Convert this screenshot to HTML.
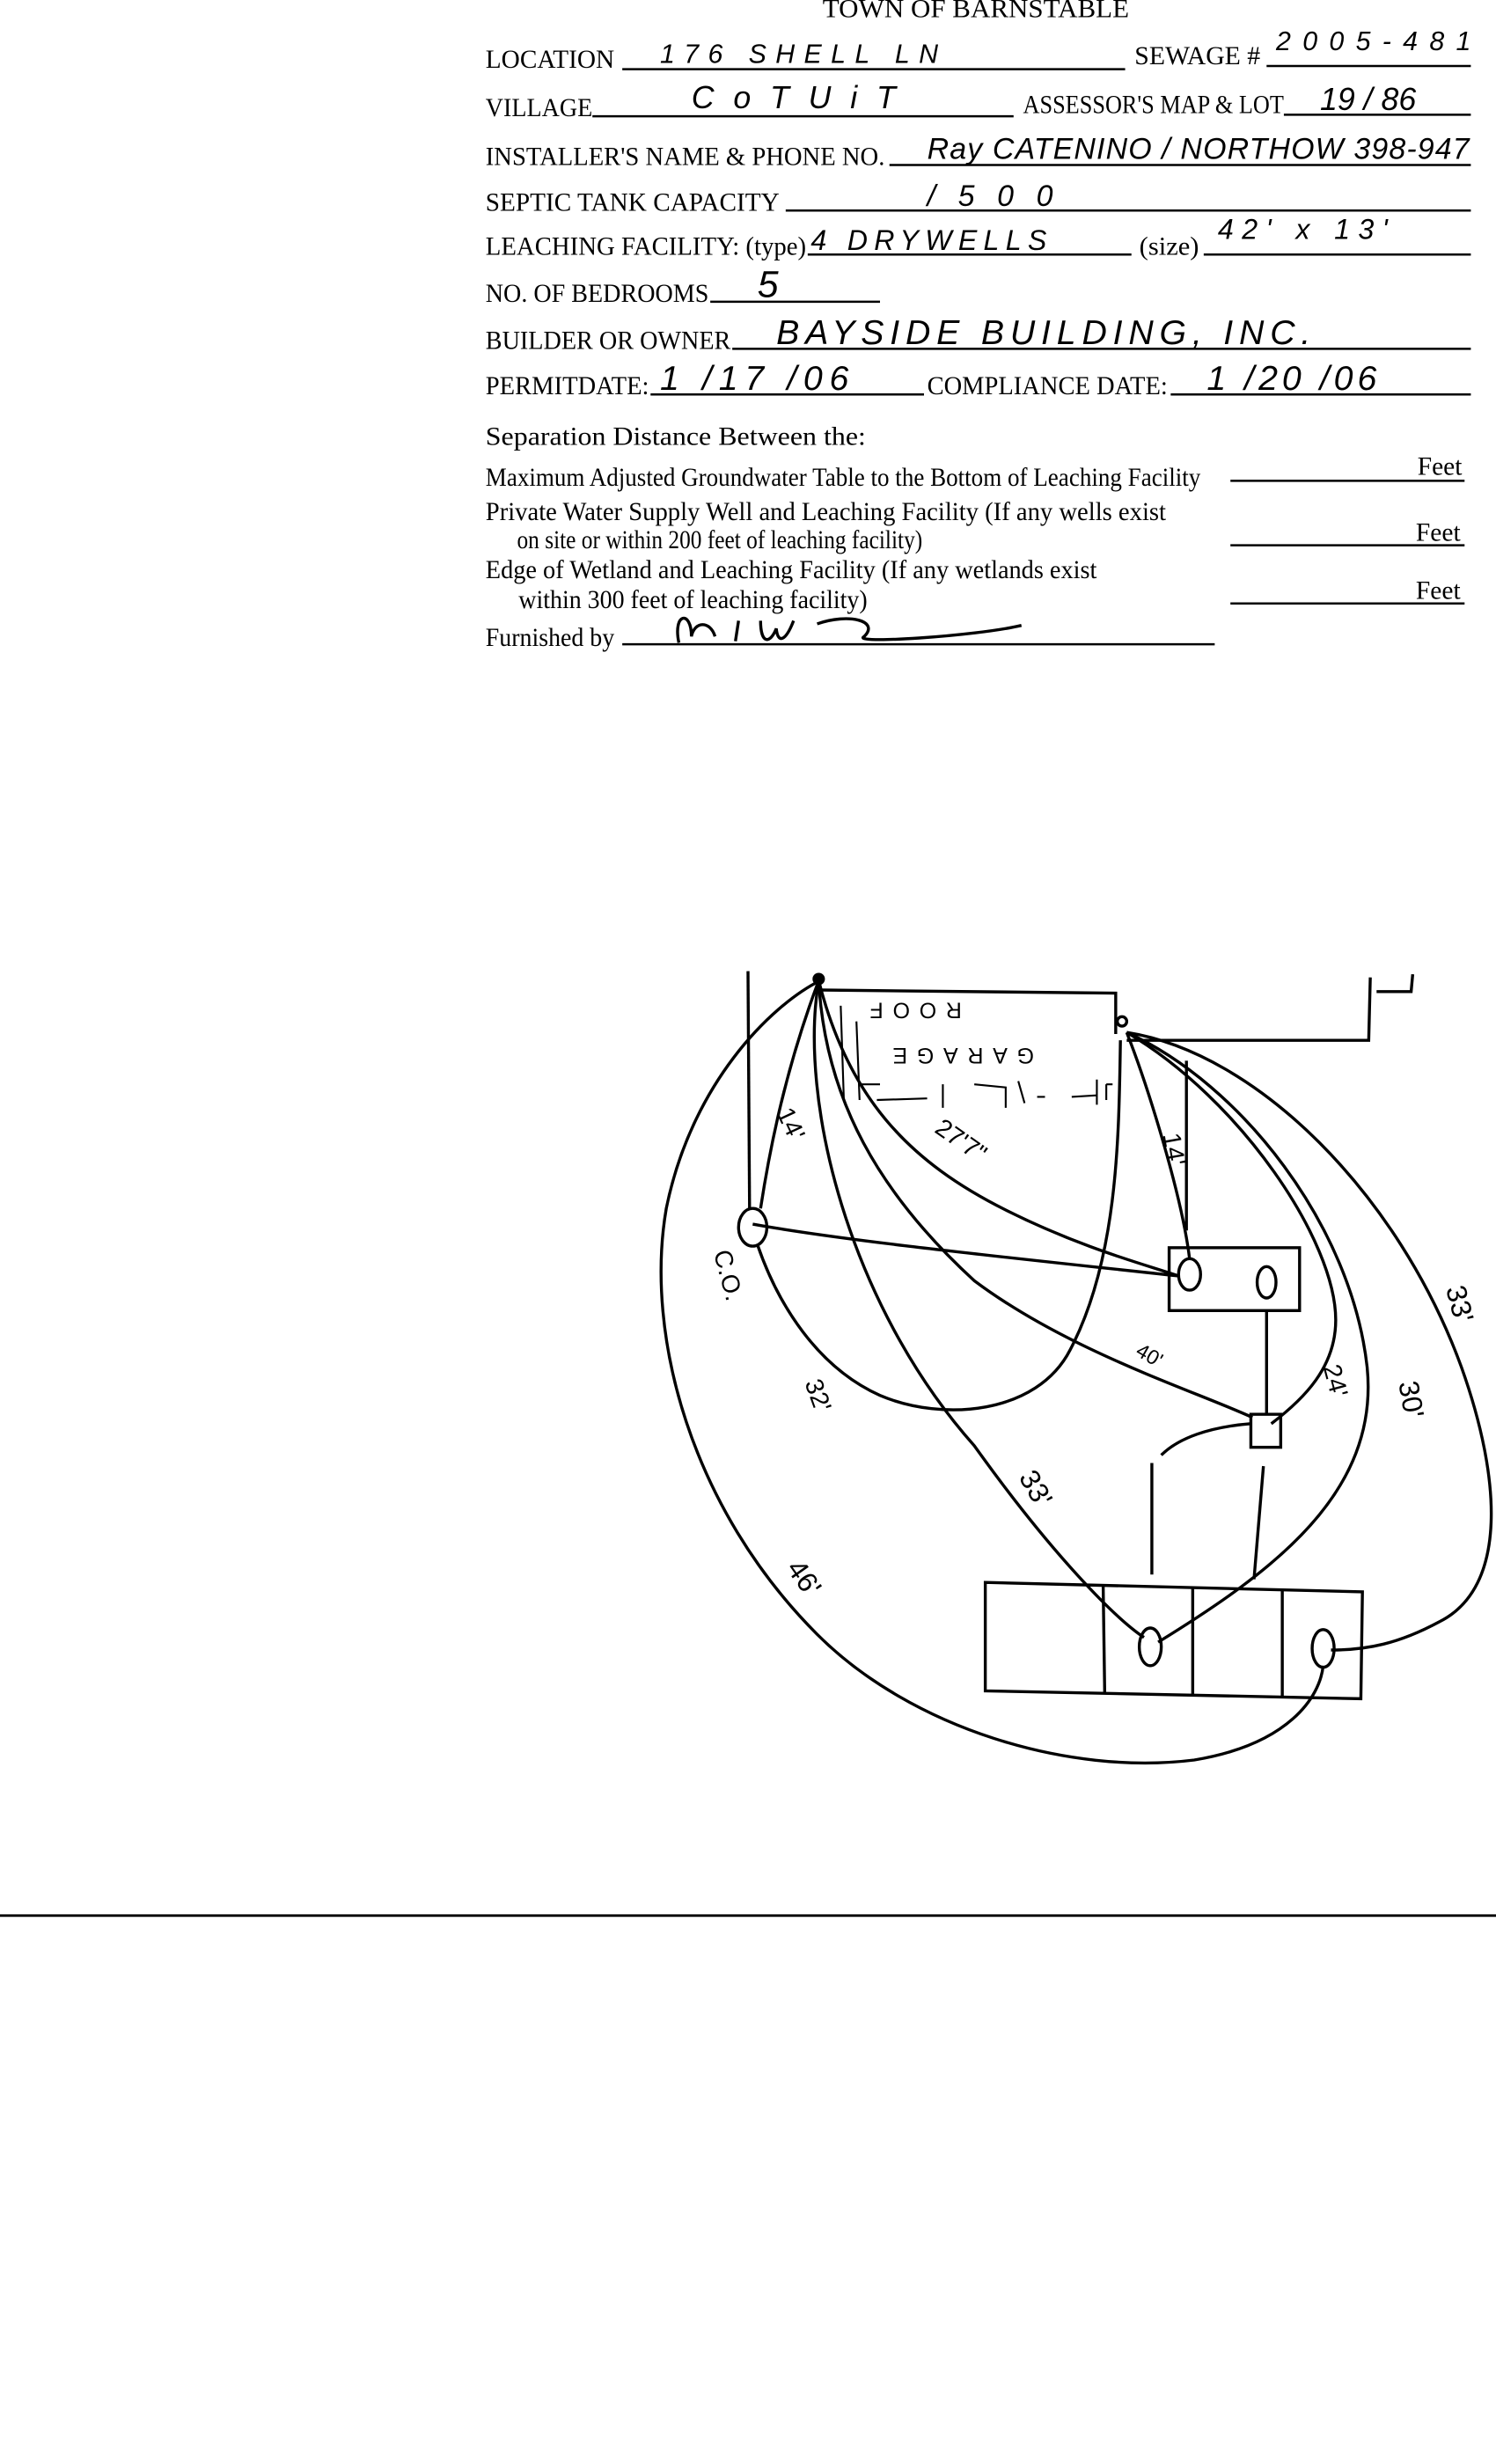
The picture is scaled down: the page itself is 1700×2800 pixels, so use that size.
<!DOCTYPE html>
<html><head><meta charset="utf-8"><style>
html,body{margin:0;padding:0;background:#fff;width:1700px;height:2800px;overflow:hidden}
svg{display:block}
.f{font-family:"Liberation Serif",serif;font-size:16.5px;fill:#000}
.h{font-family:"Liberation Sans",sans-serif;font-size:17px;fill:#000;font-style:italic}
.l{stroke:#000;stroke-width:1.4;fill:none}
.d{stroke:#000;stroke-width:1.9;fill:none}
</style></head><body>
<svg width="1700" height="2800" viewBox="0 0 952 1568" xmlns="http://www.w3.org/2000/svg">
<g class="f" lengthAdjust="spacingAndGlyphs">
<text x="621" y="11" text-anchor="middle" textLength="195" lengthAdjust="spacingAndGlyphs">TOWN OF BARNSTABLE</text>
<text x="309" y="43" textLength="82" lengthAdjust="spacingAndGlyphs">LOCATION</text>
<text x="722" y="41" textLength="80" lengthAdjust="spacingAndGlyphs">SEWAGE #</text>
<text x="309" y="74" textLength="68" lengthAdjust="spacingAndGlyphs">VILLAGE</text>
<text x="651" y="72" textLength="166" lengthAdjust="spacingAndGlyphs">ASSESSOR'S MAP &amp; LOT</text>
<text x="309" y="105" textLength="254" lengthAdjust="spacingAndGlyphs">INSTALLER'S NAME &amp; PHONE NO.</text>
<text x="309" y="134" textLength="187" lengthAdjust="spacingAndGlyphs">SEPTIC TANK CAPACITY</text>
<text x="309" y="162" textLength="204" lengthAdjust="spacingAndGlyphs">LEACHING FACILITY: (type)</text>
<text x="725" y="162" textLength="38" lengthAdjust="spacingAndGlyphs">(size)</text>
<text x="309" y="192" textLength="142" lengthAdjust="spacingAndGlyphs">NO. OF BEDROOMS</text>
<text x="309" y="222" textLength="156" lengthAdjust="spacingAndGlyphs">BUILDER OR OWNER</text>
<text x="309" y="251" textLength="104" lengthAdjust="spacingAndGlyphs">PERMITDATE:</text>
<text x="590" y="251" textLength="153" lengthAdjust="spacingAndGlyphs">COMPLIANCE  DATE:</text>
<text x="309" y="283" textLength="242" lengthAdjust="spacingAndGlyphs">Separation Distance Between the:</text>
<text x="309" y="309" textLength="455" lengthAdjust="spacingAndGlyphs">Maximum Adjusted Groundwater Table to the Bottom of Leaching Facility</text>
<text x="309" y="331" textLength="433" lengthAdjust="spacingAndGlyphs">Private Water Supply Well and Leaching Facility  (If any wells exist</text>
<text x="329" y="349" textLength="258" lengthAdjust="spacingAndGlyphs">on site or within 200 feet of leaching facility)</text>
<text x="309" y="368" textLength="389" lengthAdjust="spacingAndGlyphs">Edge of Wetland and Leaching Facility (If any wetlands exist</text>
<text x="330" y="387" textLength="222" lengthAdjust="spacingAndGlyphs">within 300 feet of leaching facility)</text>
<text x="309" y="411" textLength="82" lengthAdjust="spacingAndGlyphs">Furnished by</text>
<text x="902" y="302">Feet</text>
<text x="901" y="344">Feet</text>
<text x="901" y="381">Feet</text>
</g>
<g class="l">
<line x1="396" y1="44" x2="716" y2="44"/>
<line x1="806" y1="42" x2="936" y2="42"/>
<line x1="377" y1="74" x2="645" y2="74"/>
<line x1="817" y1="73" x2="936" y2="73"/>
<line x1="566" y1="105" x2="936" y2="105"/>
<line x1="500" y1="134" x2="936" y2="134"/>
<line x1="514" y1="162" x2="720" y2="162"/>
<line x1="766" y1="162" x2="936" y2="162"/>
<line x1="452" y1="192" x2="560" y2="192"/>
<line x1="466" y1="222" x2="936" y2="222"/>
<line x1="414" y1="251" x2="588" y2="251"/>
<line x1="745" y1="251" x2="936" y2="251"/>
<line x1="783" y1="306" x2="932" y2="306"/>
<line x1="783" y1="347" x2="932" y2="347"/>
<line x1="783" y1="384" x2="932" y2="384"/>
<line x1="396" y1="410" x2="773" y2="410"/>
<line x1="0" y1="1219" x2="952" y2="1219" stroke-width="1.6"/>
</g>
<g class="h">
<text x="420" y="40" textLength="180" letter-spacing="3">176 SHELL LN</text>
<text x="812" y="32" textLength="124">2005-481</text>
<text x="440" y="69" textLength="130" font-size="20">C o T U i T</text>
<text x="840" y="70" font-size="20">19 / 86</text>
<text x="590" y="101" textLength="345" font-size="19">Ray CATENINO / NORTHOW 398-947</text>
<text x="590" y="131" textLength="80" font-size="19">/ 5 0 0</text>
<text x="516" y="159" textLength="150" font-size="18">4 DRYWELLS</text>
<text x="775" y="152" textLength="108" font-size="18">42' x 13'</text>
<text x="482" y="189" font-size="24">5</text>
<text x="494" y="219" textLength="340" font-size="22">BAYSIDE BUILDING, INC.</text>
<text x="420" y="248" textLength="120" font-size="22">1 /17 /06</text>
<text x="768" y="248" textLength="108" font-size="22">1 /20 /06</text>
</g>
<path class="d" d="M432 409 C428 390 440 388 440 405 C442 395 452 395 455 405 M470 395 L468 408 M484 395 C484 410 490 410 494 400 C495 410 500 408 505 395 M520 397 C540 390 560 395 550 405 C540 410 620 405 650 398"/>
<!-- diagram -->
<g class="d">
<line x1="476" y1="618" x2="477" y2="770"/>
<circle cx="521" cy="623" r="3" fill="#000"/>
<path d="M522 630 L710 632 L710 658"/>
<circle cx="714" cy="650" r="3"/>
<path d="M717 662 L871 662 L872 622"/>
<path d="M876 631 L898 631 L899 620"/>
<ellipse cx="479" cy="781" rx="9" ry="12"/>
<rect x="744" y="794" width="83" height="40"/>
<ellipse cx="757" cy="811" rx="7" ry="10"/>
<ellipse cx="806" cy="816" rx="6" ry="10"/>
<rect x="796" y="900" width="19" height="21"/>
<path d="M627 1007 L867 1013 L866 1081 L627 1076 Z"/>
<line x1="702" y1="1008" x2="703" y2="1078"/>
<line x1="759" y1="1010" x2="759" y2="1079"/>
<line x1="816" y1="1011" x2="816" y2="1080"/>
<ellipse cx="732" cy="1048" rx="7" ry="12"/>
<ellipse cx="842" cy="1049" rx="7" ry="12"/>
<path d="M522 624 C490 640 440 690 424 769 C410 850 440 960 520 1040 C580 1100 680 1130 760 1120 C820 1110 840 1080 842 1060"/>
<path d="M717 657 C800 670 890 760 930 870 C955 940 960 1010 916 1032 C890 1046 870 1050 847 1050"/>
<path d="M717 657 C790 690 860 780 870 870 C878 950 810 1000 737 1045"/>
<path d="M717 657 C790 700 850 790 850 840 C850 870 830 890 809 906"/>
<path d="M717 657 C730 690 752 760 757 801"/>
<line x1="755" y1="675" x2="755" y2="783"/>
<line x1="806" y1="834" x2="806" y2="900"/>
<path d="M713 662 C712 720 712 800 681 859 C660 900 600 905 560 888 C520 870 495 830 482 792"/>
<path d="M521 624 C540 700 580 740 640 770 C690 795 730 805 750 812"/>
<path d="M479 779 C540 790 640 800 750 812"/>
<path d="M521 624 C525 700 560 760 620 815 C680 860 760 885 797 902"/>
<path d="M521 624 C508 700 540 830 620 920 C670 990 710 1030 728 1042"/>
<path d="M521 624 C500 680 490 730 484 769"/>
<path d="M796 906 C770 908 750 915 739 926"/>
<line x1="733" y1="931" x2="733" y2="1002"/>
<line x1="804" y1="933" x2="798" y2="1005"/>
</g>
<path stroke="#000" stroke-width="1.2" fill="none" d="M535 640 L537 700 M545 650 L547 700 M548 690 L560 690 M558 700 L590 699 M600 690 L600 705 M620 690 L640 692 L640 705 M648 688 L652 702 M660 698 L665 698 M682 698 L698 697 M698 687 L698 703 M704 690 L704 700 M704 690 L708 690"/>
<g font-family="Liberation Sans,sans-serif" font-size="16" fill="#000">
<text x="612" y="638" transform="rotate(180 612 638)" font-size="14" letter-spacing="6">ROOF</text>
<text x="658" y="667" transform="rotate(180 658 667)" font-size="14" letter-spacing="6">GARAGE</text>
<text x="494" y="708" transform="rotate(65 494 708)">14'</text>
<text x="454" y="797" transform="rotate(75 454 797)">C.O.</text>
<text x="512" y="880" transform="rotate(70 512 880)">32'</text>
<text x="594" y="720" transform="rotate(35 594 720)">27'7"</text>
<text x="740" y="722" transform="rotate(80 740 722)">14'</text>
<text x="722" y="862" transform="rotate(30 722 862)" font-size="13">40'</text>
<text x="842" y="870" transform="rotate(75 842 870)">24'</text>
<text x="890" y="880" transform="rotate(80 890 880)" font-size="18">30'</text>
<text x="920" y="820" transform="rotate(75 920 820)" font-size="18">33'</text>
<text x="648" y="940" transform="rotate(60 648 940)" font-size="18">33'</text>
<text x="500" y="998" transform="rotate(55 500 998)" font-size="18">46'</text>
</g>
</svg>
</body></html>
